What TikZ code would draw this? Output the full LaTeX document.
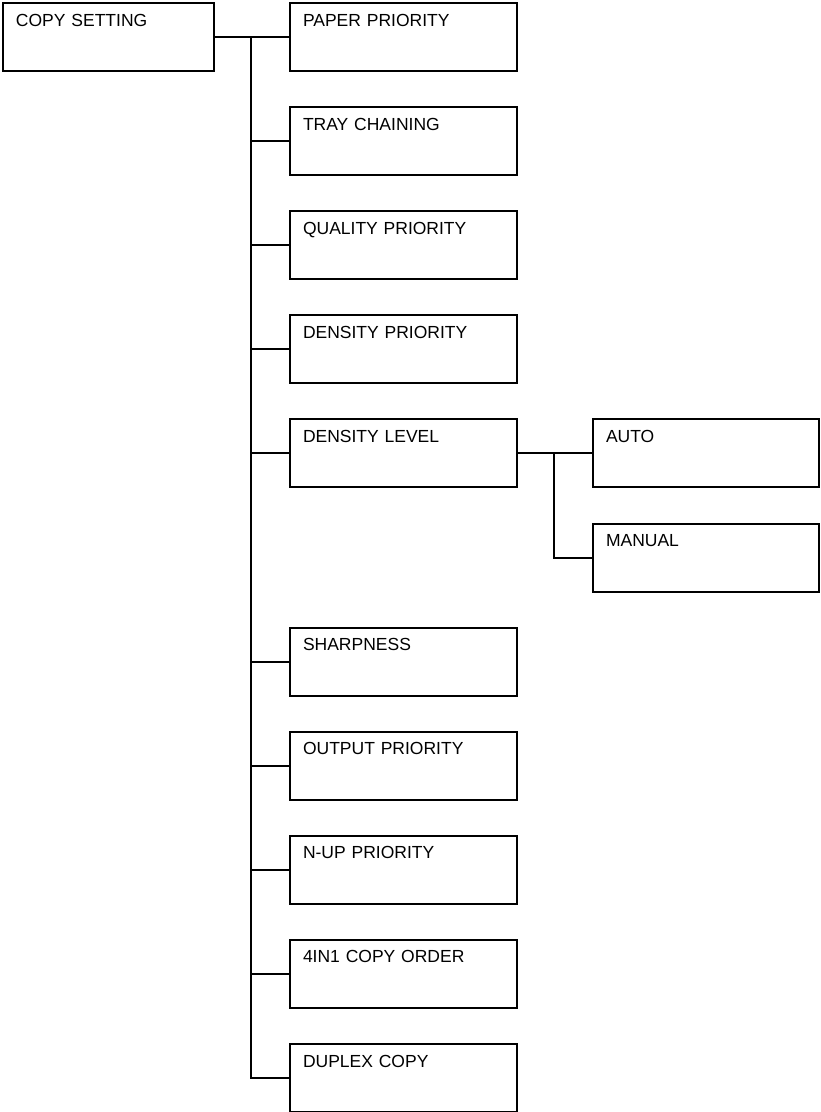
\documentclass[tikz,border=0pt]{standalone}
\usepackage{fontspec}
\setmainfont{Liberation Sans}
\tikzset{
    menubox/.style={draw, line width=2pt, anchor=north west, inner xsep=13pt, inner ysep=0pt,
        text height=23pt, text depth=45pt, text width=201pt, align=left,
        font=\fontsize{17.5}{21}\selectfont},
    link/.style={line width=2pt}
}
\begin{document}
\begin{tikzpicture}[x=1pt,y=-1pt]
    \useasboundingbox (0,0) rectangle (820,1112);
    \node[menubox, text width=185pt] (copy) at (2,2) {COPY SETTING};
    \node[menubox] (paper) at (289,2) {PAPER PRIORITY};
    \node[menubox] (tray) at (289,106.1) {TRAY CHAINING};
    \node[menubox] (quality) at (289,210.2) {QUALITY PRIORITY};
    \node[menubox] (dprio) at (289,314.3) {DENSITY PRIORITY};
    \node[menubox] (dlevel) at (289,418.4) {DENSITY LEVEL};
    \node[menubox] (sharp) at (289,626.6) {SHARPNESS};
    \node[menubox] (output) at (289,730.7) {OUTPUT PRIORITY};
    \node[menubox] (nup) at (289,834.8) {N-UP PRIORITY};
    \node[menubox] (order) at (289,938.9) {4IN1 COPY ORDER};
    \node[menubox] (duplex) at (289,1043) {DUPLEX COPY};
    \node[menubox, text width=200pt] (auto) at (592,418.4) {AUTO};
    \node[menubox, text width=200pt] (manual) at (592,522.5) {MANUAL};
    \coordinate (trunk) at (251,0);
    \coordinate (fork) at (554,0);
    % main tree
    \draw[link] (copy.east) -- (paper.west);
    \draw[link] (paper.west -| trunk) |- (duplex.west);
    \foreach \item in {tray,quality,dprio,dlevel,sharp,output,nup,order}
        \draw[link] (\item.west -| trunk) -- (\item.west);
    % density level
    \draw[link] (dlevel.east) -- (auto.west);
    \draw[link] (auto.west -| fork) |- (manual.west);
\end{tikzpicture}
\end{document}
